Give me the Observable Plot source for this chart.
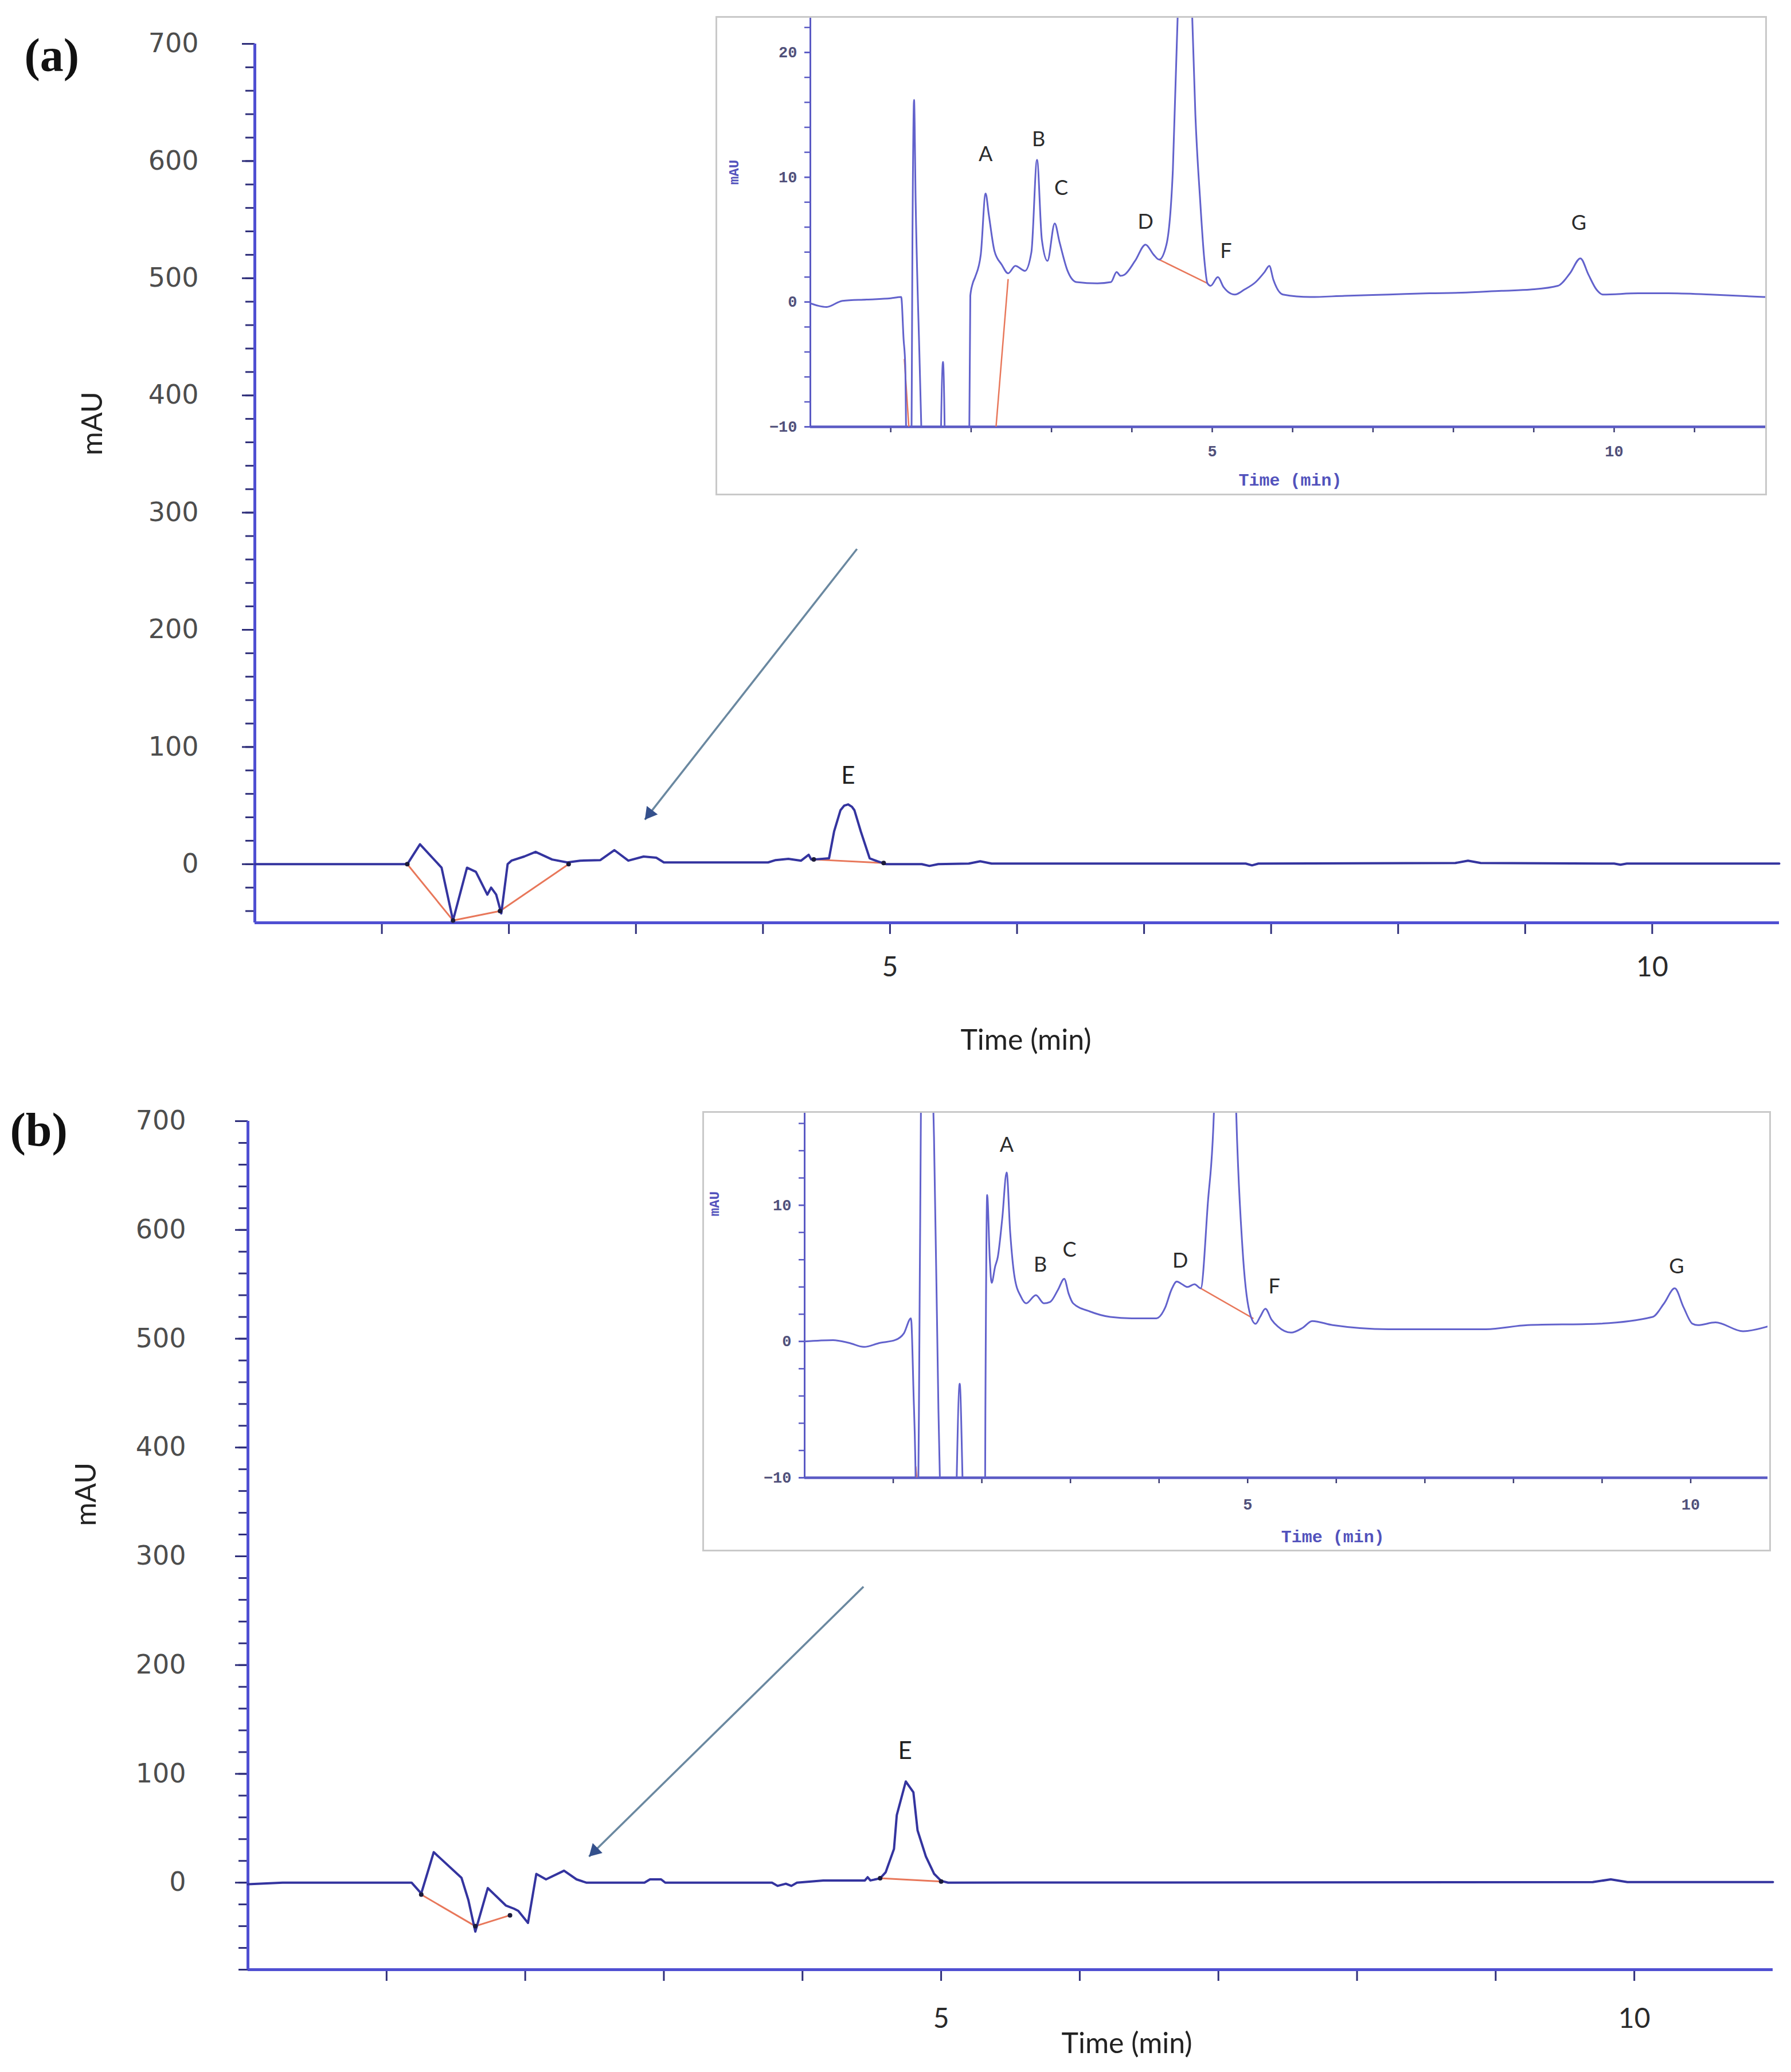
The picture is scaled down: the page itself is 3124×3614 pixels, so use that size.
<!DOCTYPE html>
<html>
<head>
<meta charset="utf-8">
<script src="https://cdn.jsdelivr.net/npm/d3@7"></script>
<script src="https://cdn.jsdelivr.net/npm/@observablehq/plot@0.6"></script>
<style>
  html, body { margin: 0; padding: 0; background: #fff; }
  #fig { position: relative; width: 3124px; height: 3614px; background: #fff; overflow: hidden; }
</style>
</head>
<body>
<div id="fig"></div>
<script>
// ---------------- Panel (a): full-scale chromatogram ----------------
const timeA = [0, 1.20, 1.30, 1.47, 1.56, 1.67, 1.74, 1.83, 1.86, 1.90, 1.94, 1.99, 2.02, 2.12, 2.21, 2.34, 2.46, 2.56, 2.72, 2.83, 2.94, 3.06, 3.16, 3.22, 4.04, 4.10, 4.20, 4.30, 4.36, 4.38, 4.40, 4.52, 4.56, 4.61, 4.64, 4.67, 4.70, 4.72, 4.77, 4.84, 4.90, 4.97, 5.25, 5.31, 5.38, 5.62, 5.71, 5.80, 7.80, 7.85, 7.90, 9.45, 9.55, 9.65, 10.70, 10.75, 10.80, 12];
const mauA  = [0, 0, 17, -3, -48, -3, -6.5, -26, -20, -26, -42, 0, 3, 6.5, 10.5, 4, 1.5, 3, 3.5, 12, 3, 6.5, 5.5, 1.5, 1.5, 3.5, 4.5, 3, 8, 4, 4, 5, 28, 46, 50, 51, 49, 46, 28, 5, 2.5, 0, 0, -1.5, 0, 0.5, 2.5, 0.5, 0.5, -1, 0.5, 1, 3, 1, 0.5, -0.5, 0.5, 0.5];
// integration baselines (polylines) and their end markers
const integA = [
  {seg: 1, t: 1.20, mau: 0}, {seg: 1, t: 1.56, mau: -48}, {seg: 1, t: 1.93, mau: -40}, {seg: 1, t: 2.47, mau: 0},
  {seg: 2, t: 4.40, mau: 4}, {seg: 2, t: 4.95, mau: 1}
];
const peakNameA = ["E"], peakTimeA = [4.67], peakMauA = [75];
const arrowA = [{t1: 4.74, mau1: 269, t2: 3.07, mau2: 38}];
const xTicksA = [1, 2, 3, 4, 5, 6, 7, 8, 9, 10, 11];
const xTickTextA = ["", "", "", "", "5", "", "", "", "", "", "10"];

// Inset (a): expanded view, -10 … 22.8 mAU
const insetTimeA = [0.00,0.10,0.20,0.40,0.70,1.00,1.13,1.16,1.18,1.21,1.25,1.27,1.29,1.31,1.36,1.42,1.52,1.60,1.65,1.70,1.83,1.94,1.99,2.02,2.05,2.12,2.18,2.22,2.29,2.38,2.46,2.55,2.67,2.75,2.82,2.88,2.95,3.04,3.10,3.20,3.31,3.57,3.74,3.81,3.86,3.91,4.04,4.17,4.27,4.34,4.43,4.51,4.58,4.66,4.74,4.79,4.85,4.90,4.94,4.98,5.07,5.14,5.28,5.40,5.54,5.65,5.71,5.76,5.88,6.22,6.65,7.20,7.70,8.10,8.60,8.96,9.30,9.45,9.58,9.68,9.78,9.86,10.30,10.67,11.20,11.89];
const insetMauA  = [-0.1,-0.3,-0.4,0.1,0.2,0.3,0.4,-3,-5,-20,-20,5,16.2,8,-5,-20,-48,-20,-4.8,-20,-26,-42,0.5,1.5,2.0,3.8,8.7,7,4.1,3,2.3,2.9,2.5,4,11.4,5,3.3,6.3,4.8,2.5,1.6,1.5,1.6,2.4,2.1,2.2,3.3,4.6,3.8,3.4,4.6,10.6,25,50,25,15,8.1,3.5,1.5,1.3,2.0,1.2,0.6,1.0,1.6,2.4,2.9,1.8,0.6,0.4,0.5,0.6,0.7,0.75,0.9,1.0,1.3,2.3,3.5,2.2,1.0,0.6,0.7,0.7,0.6,0.4];
const insetIntegA = [
  {seg: 1, t: 1.17, mau: -4.6}, {seg: 1, t: 1.225, mau: -10},
  {seg: 2, t: 2.46, mau: 1.8}, {seg: 2, t: 2.31, mau: -10},
  {seg: 3, t: 4.34, mau: 3.4}, {seg: 3, t: 4.94, mau: 1.5}
];
const insetPeakNameA = ["A", "B", "C", "D", "F", "G"];
const insetPeakTimeA = [2.18, 2.84, 3.12, 4.17, 5.17, 9.56];
const insetPeakMauA  = [11.8, 13.0, 9.1, 6.4, 4.05, 6.3];

// ---------------- Panel (b) ----------------
const timeB = [0, 0.25, 1.18, 1.25, 1.34, 1.54, 1.59, 1.64, 1.73, 1.86, 1.92, 1.95, 2.02, 2.08, 2.15, 2.28, 2.37, 2.44, 2.86, 2.90, 2.98, 3.01, 3.78, 3.82, 3.88, 3.92, 3.96, 4.15, 4.45, 4.47, 4.49, 4.56, 4.60, 4.66, 4.68, 4.745, 4.80, 4.83, 4.89, 4.95, 5.00, 5.05, 9.70, 9.83, 9.95, 11];
const mauB  = [-1.5, 0, 0, -10, 28, 4.5, -16, -45, -5, -21, -24, -26, -37, 8, 3, 11, 3, 0, 0, 3, 3, 0, 0, -3, -1, -3, 0, 2, 2, 5, 2, 4, 9.5, 31, 62, 93, 83, 48, 24, 8, 1.6, 0, 0.5, 3, 0.5, 0.5];
const integB = [
  {seg: 1, t: 1.25, mau: -11}, {seg: 1, t: 1.64, mau: -40}, {seg: 1, t: 1.89, mau: -30},
  {seg: 2, t: 4.56, mau: 4}, {seg: 2, t: 5.00, mau: 1}
];
const peakNameB = ["E"], peakTimeB = [4.74], peakMauB = [121];
const arrowB = [{t1: 4.44, mau1: 272, t2: 2.46, mau2: 24}];
const xTicksB = [1, 2, 3, 4, 5, 6, 7, 8, 9, 10];
const xTickTextB = ["", "", "", "", "5", "", "", "", "", "10"];

// Inset (b): expanded view, -10 … 16.8 mAU
const insetTimeB = [0.00,0.32,0.50,0.67,0.85,1.02,1.12,1.20,1.23,1.25,1.27,1.30,1.33,1.40,1.46,1.51,1.56,1.64,1.71,1.75,1.79,1.86,2.02,2.04,2.06,2.09,2.11,2.15,2.18,2.23,2.28,2.32,2.37,2.44,2.50,2.61,2.70,2.77,2.86,2.93,2.98,3.03,3.22,3.45,3.69,3.97,4.07,4.14,4.20,4.26,4.32,4.40,4.47,4.55,4.62,4.68,4.75,4.80,4.87,4.94,5.02,5.09,5.14,5.20,5.27,5.34,5.49,5.62,5.73,5.96,6.59,7.06,7.69,8.16,8.94,9.57,9.70,9.82,9.92,10.02,10.08,10.28,10.59,10.87];
const insetMauB  = [0,0.1,-0.1,-0.4,-0.1,0.1,0.6,1.7,-4,-9,-20,5,28,25,15,-5,-20,-45,-12,-3.1,-12,-21,-37,-5,10.75,6,4.3,5.5,6.2,9,12.4,8,4.7,3.3,2.8,3.4,2.8,2.9,3.8,4.6,3.5,2.8,2.2,1.8,1.7,1.7,2.5,3.8,4.4,4.2,4.0,4.2,3.9,10.1,17,50,91,40,17,7,2.2,1.3,1.8,2.4,1.6,1.1,0.65,1.0,1.5,1.2,0.9,0.9,0.9,1.2,1.3,1.8,2.8,3.9,2.5,1.3,1.2,1.4,0.75,1.1];
const insetIntegB = [
  {seg: 1, t: 1.255, mau: -9.2}, {seg: 1, t: 1.265, mau: -10},
  {seg: 2, t: 4.47, mau: 3.9}, {seg: 2, t: 5.06, mau: 1.7}
];
const insetPeakNameB = ["A", "B", "C", "D", "F", "G"];
const insetPeakTimeB = [2.28, 2.66, 2.99, 4.24, 5.30, 9.84];
const insetPeakMauB  = [14.4, 5.6, 6.7, 5.9, 4.0, 5.5];

// ---------------- styling ----------------
const axisBlue = "#4f4fd2";
const tickNavy = "#2e2e7a";
const traceBlue = "#34349f";
const integRed = "#e8775a";
const arrowGray = "#6a88a0";
const arrowHead = "#34508c";
const insetTrace = "#6262cc";
const insetAxis = "#5a5ac4";
const insetText = "#50507a";
const sansText = "Lato, 'Open Sans', sans-serif";
const monoText = "'Liberation Mono', 'DejaVu Sans Mono', monospace";

const range = (a, b, s) => d3.range(a, b + s / 2, s);
const zip = (t, y) => t.map((d, i) => ({t: d, mau: y[i]}));

function mainPanel(c) {
  const tickText = new Map(c.xTicks.map((d, i) => [d, c.xTickText[i]]));
  const peaks = c.peakName.map((n, i) => ({name: n, t: c.peakTime[i], mau: c.peakMau[i]}));
  // screen direction of the pointer, for orienting its filled head
  const kx = (3124 - c.ml - c.mr) / (c.xDomain[1] - c.xDomain[0]);
  const ky = (c.height - c.mt - c.mb) / (c.yDomain[1] - c.yDomain[0]);
  const a = c.arrow[0];
  const ang = Math.atan2(-(a.mau2 - a.mau1) * ky, (a.t2 - a.t1) * kx);
  const headR = 9, back = 1.555 * headR;
  return Plot.plot({
    width: 3124, height: c.height,
    marginLeft: c.ml, marginRight: c.mr, marginTop: c.mt, marginBottom: c.mb,
    x: {domain: c.xDomain},
    y: {domain: c.yDomain},
    marks: [
      // minor and labelled ticks on the absorbance axis
      Plot.axisY(range(c.yDomain[0] + (c.yDomain[0] % 20 === 0 ? 0 : 10), 700, 20), {tickSize: 16, stroke: tickNavy, strokeWidth: 3, fill: "none", label: null}),
      Plot.axisY(range(0, 700, 100), {tickSize: 22, tickPadding: c.yPad, stroke: tickNavy, strokeWidth: 3, fill: "#4d4d4d", fontSize: 46, fontFamily: "'DejaVu Sans', Verdana, sans-serif", label: null}),
      Plot.axisX(c.xTicks, {tickSize: 20, tickPadding: c.xPad, stroke: tickNavy, strokeWidth: 3, fill: "#2a2a2a", fontSize: 48, fontFamily: sansText, tickFormat: d => tickText.get(d) ?? "", label: null}),
      Plot.ruleX([c.xDomain[0]], {stroke: axisBlue, strokeWidth: 5}),
      Plot.ruleY([c.yDomain[0]], {stroke: axisBlue, strokeWidth: 5}),
      // integration baselines
      Plot.line(c.integ, {x: "t", y: "mau", z: "seg", stroke: integRed, strokeWidth: 3}),
      // detector trace
      Plot.line(zip(c.time, c.mau), {x: "t", y: "mau", stroke: traceBlue, strokeWidth: 4, strokeLinejoin: "round"}),
      Plot.dot(c.integ, {x: "t", y: "mau", r: 4, fill: "#1b1b3a"}),
      Plot.text(peaks, {x: "t", y: "mau", text: "name", fontSize: 42, fontFamily: sansText, fill: "#1e1e1e"}),
      // pointer towards the zoomed region
      Plot.link(c.arrow, {x1: "t1", y1: "mau1", x2: "t2", y2: "mau2", stroke: arrowGray, strokeWidth: 3.5}),
      Plot.dot(c.arrow, {x: "t2", y: "mau2", symbol: "triangle", r: headR, fill: arrowHead, stroke: "none",
        rotate: ang * 180 / Math.PI + 90, dx: -back * Math.cos(ang), dy: -back * Math.sin(ang)}),
      // axis titles and panel tag
      Plot.text(["Time (min)"], {x: () => c.titleT, frameAnchor: "bottom", textAnchor: "middle", lineAnchor: "middle", dy: c.titleDy, fontSize: 50, fontFamily: sansText, fill: "#222"}),
      Plot.text(["mAU"], {y: () => c.mauY, frameAnchor: "left", textAnchor: "middle", lineAnchor: "middle", dx: c.mauDx, rotate: -90, fontSize: 50, fontFamily: sansText, fill: "#222"}),
      Plot.text([c.tag], {frameAnchor: "top-left", textAnchor: "start", lineAnchor: "middle", dx: c.tagDx, dy: c.tagDy, fontSize: 82, fontWeight: "bold", fontFamily: "'Liberation Serif', 'Times New Roman', serif", fill: "#111"})
    ]
  });
}

function insetPanel(c) {
  const tickText = new Map([[5, "5"], [10, "10"]]);
  const peaks = c.peakName.map((n, i) => ({name: n, t: c.peakTime[i], mau: c.peakMau[i]}));
  const svg = Plot.plot({
    width: c.w, height: c.h,
    marginLeft: c.ml, marginRight: c.mr, marginTop: c.mt, marginBottom: c.mb,
    x: {domain: c.xDomain},
    y: {domain: c.yDomain},
    marks: [
      Plot.axisY(range(-10, Math.floor(c.yDomain[1]), 2), {tickSize: 10, stroke: insetAxis, strokeWidth: 2.5, fill: "none", label: null}),
      Plot.axisY(range(-10, Math.floor(c.yDomain[1]), 10), {tickSize: 10, tickPadding: 13, stroke: insetAxis, strokeWidth: 2.5, fill: insetText, fontSize: 27, fontWeight: "bold", fontFamily: monoText, label: null}),
      Plot.axisX(range(1, Math.floor(c.xDomain[1]), 1), {tickSize: 10, tickPadding: c.xPad, stroke: "#3a3a70", strokeWidth: 2.5, fill: insetText, fontSize: 27, fontWeight: "bold", fontFamily: monoText, tickFormat: d => tickText.get(d) ?? "", label: null}),
      Plot.ruleX([0], {stroke: insetAxis, strokeWidth: 3}),
      Plot.ruleY([-10], {stroke: insetAxis, strokeWidth: 4.5}),
      Plot.line(c.integ, {x: "t", y: "mau", z: "seg", stroke: integRed, strokeWidth: 2.5, clip: true}),
      Plot.line(zip(c.time, c.mau), {x: "t", y: "mau", stroke: insetTrace, strokeWidth: 3, curve: "monotone-x", clip: true}),
      Plot.text(peaks, {x: "t", y: "mau", text: "name", fontSize: 36, fontFamily: sansText, fill: "#2b2b2b"}),
      Plot.text(["Time (min)"], {x: () => c.titleT, frameAnchor: "bottom", textAnchor: "middle", lineAnchor: "middle", dy: c.titleDy, fontSize: 30, fontWeight: "bold", fontFamily: monoText, fill: "#5252bc"}),
      Plot.text(["mAU"], {y: () => c.mauY, frameAnchor: "left", textAnchor: "middle", lineAnchor: "middle", dx: c.mauDx, rotate: -90, fontSize: 24, fontWeight: "bold", fontFamily: monoText, fill: "#5252bc"})
    ]
  });
  svg.style.outline = "3px solid #c9c9c9";
  svg.style.outlineOffset = "-3px";
  svg.style.background = "#fff";
  return svg;
}

const fig = document.getElementById("fig");
function place(node, left, top) {
  node.style.position = "absolute";
  node.style.left = left + "px";
  node.style.top = top + "px";
  fig.appendChild(node);
}

place(mainPanel({
  height: 1870, ml: 444, mr: 21, mt: 76, mb: 261,
  xDomain: [0, 12], yDomain: [-50, 700], yPad: 76, xPad: 39,
  xTicks: xTicksA, xTickText: xTickTextA,
  time: timeA, mau: mauA, integ: integA,
  peakName: peakNameA, peakTime: peakTimeA, peakMau: peakMauA, arrow: arrowA,
  titleT: 6.07, titleDy: 205, mauY: 376, mauDx: -283,
  tag: "(a)", tagDx: -402, tagDy: 21
}), 0, 0);

place(mainPanel({
  height: 1744, ml: 432, mr: 32, mt: 85, mb: 179,
  xDomain: [0, 11], yDomain: [-80, 700], yPad: 86, xPad: 47,
  xTicks: xTicksB, xTickText: xTickTextB,
  time: timeB, mau: mauB, integ: integB,
  peakName: peakNameB, peakTime: peakTimeB, peakMau: peakMauB, arrow: arrowB,
  titleT: 6.34, titleDy: 129, mauY: 357, mauDx: -282,
  tag: "(b)", tagDx: -415, tagDy: 16
}), 0, 1870);

place(insetPanel({
  w: 1834, h: 836, ml: 165, mr: 2, mt: 2, mb: 120,
  xDomain: [0, 11.89], yDomain: [-10, 22.8], xPad: 22,
  time: insetTimeA, mau: insetMauA, integ: insetIntegA,
  peakName: insetPeakNameA, peakTime: insetPeakTimeA, peakMau: insetPeakMauA,
  titleT: 5.97, titleDy: 93, mauY: 10.4, mauDx: -133
}), 1248, 28);

place(insetPanel({
  w: 1864, h: 768, ml: 178, mr: 6, mt: 2, mb: 129,
  xDomain: [0, 10.87], yDomain: [-10, 16.8], xPad: 26,
  time: insetTimeB, mau: insetMauB, integ: insetIntegB,
  peakName: insetPeakNameB, peakTime: insetPeakTimeB, peakMau: insetPeakMauB,
  titleT: 5.96, titleDy: 103, mauY: 10.1, mauDx: -157
}), 1225, 1938);
</script>
</body>
</html>
